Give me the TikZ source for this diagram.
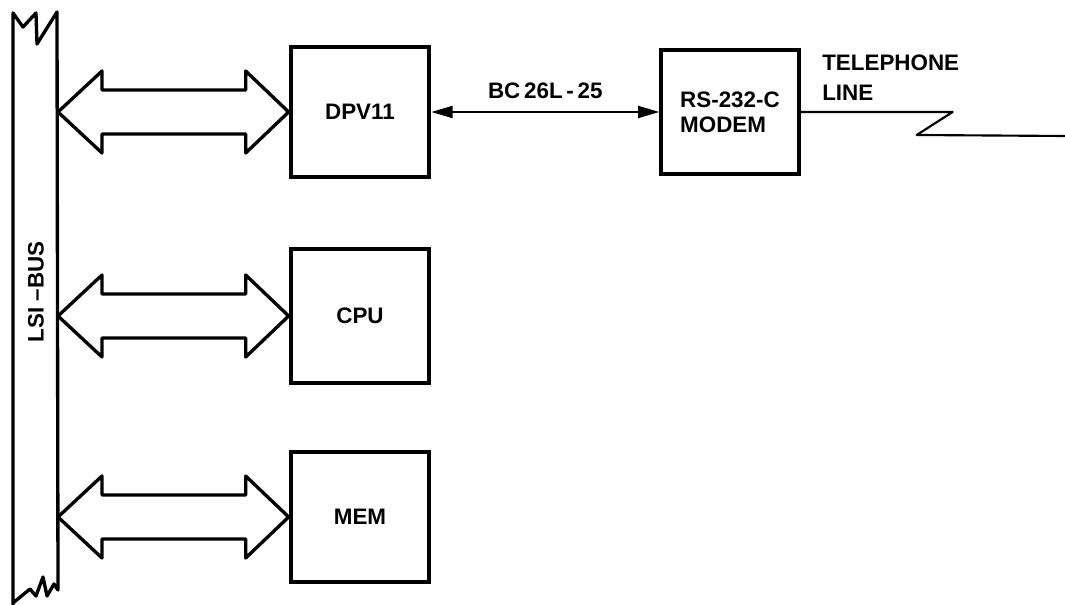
\documentclass[tikz,border=0pt]{standalone}
\usepackage{fontspec}
\setmainfont{Liberation Sans}
\usetikzlibrary{arrows.meta,calc}

\newcommand{\busarrow}[1]{%
  \coordinate (#1tip) at (busR |- #1.west);
  \draw[wide] (#1tip) -- ++(44,-41) -- ++(0,19) -- ($(#1.west)+(-43,-22)$) -- ++(0,-19) -- (#1.west) -- ++(-43,41) -- ++(0,-19) -- ($(#1tip)+(44,22)$) -- ++(0,19) -- cycle;}

\begin{document}
\begin{tikzpicture}[x=0.75pt,y=0.75pt,yscale=-1,xscale=1,
    lbl/.style={inner sep=0pt, font=\fontsize{16.8}{18.75}\selectfont\bfseries},
    unit/.style={draw, line width=3pt, minimum width=104pt, minimum height=98pt, lbl},
    wide/.style={line width=2.5pt, line join=round},
    busline/.style={line width=2.5pt, line join=round},
    link/.style={line width=1.6pt, {Triangle[length=16pt,width=9pt]}-{Triangle[length=16pt,width=9pt]}},
    telline/.style={line width=1.6pt, line join=round}]
        \useasboundingbox (0,0) rectangle (1065,605);
        % bus
        \draw[busline] (13,606) -- (13,13) -- (23,27) -- (36,13) -- (37,44) -- (57,12) -- (58,590) -- (54,584) -- (47,596) -- (43,577) -- (36,596) -- (30,589) -- (13,603);
        \coordinate (busR) at (58,0);
        \node[lbl, rotate=90] (buslbl) at (36,292) {LSI –BUS};
        % boxes
        \node[unit] (dpv) at (360,112) {DPV11};
        \node[unit, minimum height=100pt] (cpu) at (360,316) {CPU};
        \node[unit] (mem) at (360,517) {MEM};
        \node[unit, minimum width=103pt, minimum height=93pt, align=left] (modem) at (730,112) {RS-232-C\\MODEM};
        \busarrow{dpv}
        \busarrow{cpu}
        \busarrow{mem}
        \draw[link] (dpv.east) -- node[lbl, above=9pt] (cable) {BC\,26L\,-\,25} (modem.west);
        \coordinate (telend) at (1065,136);
        \draw[telline] (modem.east) -- ++(152,0) -- ++(-36,23) -- (telend);
        \node[lbl, align=left, anchor=north west, font=\fontsize{16.8}{22.5}\selectfont\bfseries] (tel) at (822,55) {TELEPHONE\\LINE};
\end{tikzpicture}
\end{document}
